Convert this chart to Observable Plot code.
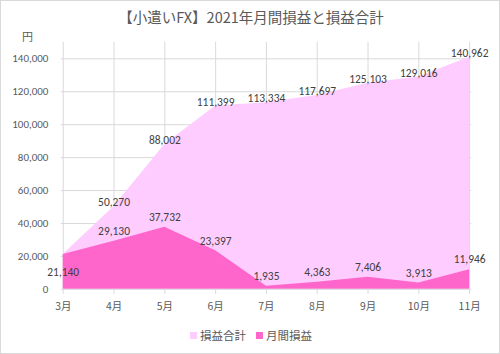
<!DOCTYPE html>
<html>
<head>
<meta charset="utf-8">
<script src="https://cdn.jsdelivr.net/npm/d3@7"></script>
<script src="https://cdn.jsdelivr.net/npm/@observablehq/plot@0.6"></script>
<style>
  html, body { margin: 0; padding: 0; background: #fff; }
  #chart { position: relative; width: 500px; height: 354px; box-sizing: border-box; border: 1px solid #d9d9d9; background: #fff; overflow: hidden; font-family: "Noto Sans CJK JP", sans-serif; }
  #chart svg { position: absolute; left: -1px; top: -1px; }
  .title { position: absolute; left: 0; width: 500px; top: 5px; text-align: center; font-size: 14.5px; color: #595959; }
  .unit { position: absolute; left: 21px; top: 27px; font-size: 11px; color: #595959; }
  .legend { position: absolute; left: 0; width: 500px; top: 326px; text-align: center; font-size: 11.5px; color: #595959; }
  .legend span.sw { display: inline-block; width: 7px; height: 7px; margin-right: 3px; vertical-align: 1px; }
  .legend span.item { margin: 0 5px; }
</style>
</head>
<body>
<div id="chart">
  <div class="title">【小遣いFX】2021年月間損益と損益合計</div>
  <div class="unit">円</div>
  <div class="legend" id="legend"></div>
</div>
<script>
const months = ["3月", "4月", "5月", "6月", "7月", "8月", "9月", "10月", "11月"];
const monthly = [21140, 29130, 37732, 23397, 1935, 4363, 7406, 3913, 11946];
const total = [21140, 50270, 88002, 111399, 113334, 117697, 125103, 129016, 140962];
const seriesNames = ["損益合計", "月間損益"];
const yTicks = [0, 20000, 40000, 60000, 80000, 100000, 120000, 140000];

const lightPink = "#ffccff";
const darkPink = "#ff66cc";
const gridColor = "#d9d9d9";
const numFont = "Carlito, 'Liberation Sans', 'Noto Sans CJK JP', sans-serif";

const data = months.map((m, i) => ({month: m, monthly: monthly[i], total: total[i], i}));
const fmt = d3.format(",");

const plot = Plot.plot({
  width: 500,
  height: 354,
  marginLeft: 61,
  marginRight: 27,
  marginTop: 42,
  marginBottom: 64,
  style: {fontFamily: numFont, fontSize: "10.5px", color: "#595959", background: "transparent"},
  x: {type: "point", domain: months, padding: 0, label: null},
  y: {domain: [0, 150000], label: null},
  marks: [
    Plot.gridY(yTicks.filter(d => d > 0), {stroke: gridColor, strokeOpacity: 1}),
    Plot.gridX(months, {stroke: gridColor, strokeOpacity: 1}),
    Plot.areaY(data, {x: "month", y: "total", fill: lightPink}),
    Plot.areaY(data, {x: "month", y: "monthly", fill: darkPink}),
    Plot.ruleY([0], {stroke: gridColor}),
    Plot.axisY(yTicks, {tickSize: 0, tickPadding: 13, tickFormat: fmt, fill: "#595959", fontSize: 11, fontFamily: numFont}),
    Plot.axisX(months, {tickSize: 5, stroke: gridColor, tickPadding: 8, fill: "#595959", fontSize: 10.5, fontFamily: "'Noto Sans CJK JP', sans-serif"}),
    Plot.text(data.filter(d => d.i > 0), {x: "month", y: "total", text: d => fmt(d.total), dy: -4, fill: "#404040", fontSize: 11.5, fontFamily: numFont}),
    Plot.text(data.filter(d => d.i > 0), {x: "month", y: "monthly", text: d => fmt(d.monthly), dy: -10, fill: "#404040", fontSize: 11.5, fontFamily: numFont}),
    Plot.text(data.filter(d => d.i === 0), {x: "month", y: "monthly", text: d => fmt(d.monthly), dy: 18, fill: "#404040", fontSize: 11.5, fontFamily: numFont})
  ]
});
document.getElementById("chart").appendChild(plot);

const legend = document.getElementById("legend");
const colors = [lightPink, darkPink];
legend.innerHTML = seriesNames.map((n, k) =>
  `<span class="item"><span class="sw" style="background:${colors[k]}"></span>${n}</span>`).join("");
</script>
</body>
</html>
